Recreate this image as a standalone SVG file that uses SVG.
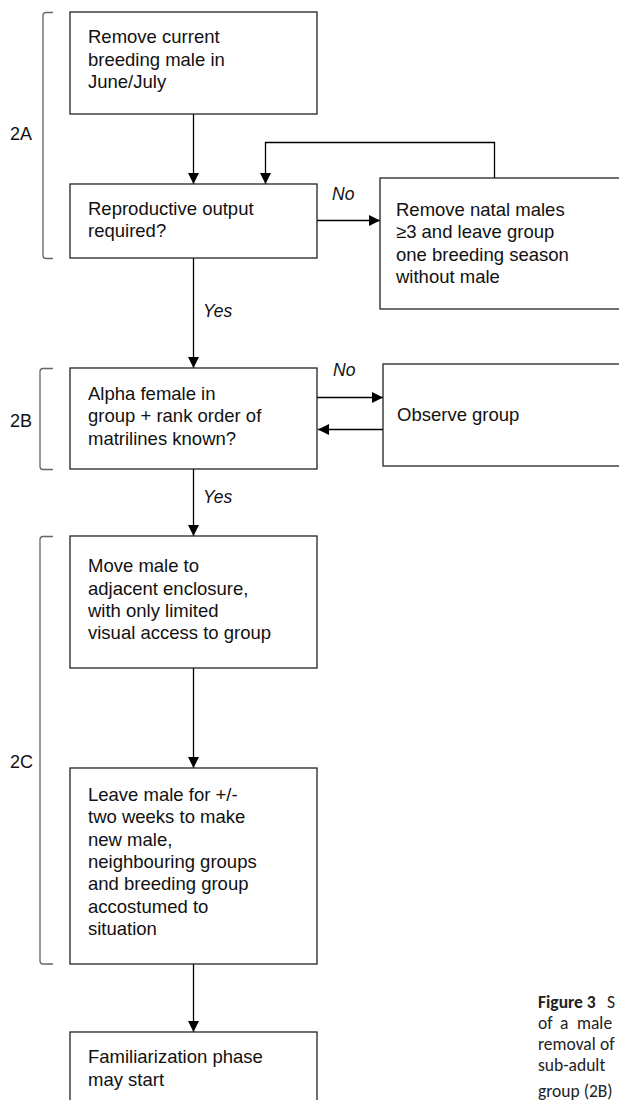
<svg xmlns="http://www.w3.org/2000/svg" width="619" height="1100" viewBox="0 0 619 1100">
<style>
.box{fill:#fff;stroke:#222;stroke-width:1.3}
.t{font-family:"Liberation Sans",Arial,sans-serif;font-size:18.5px;fill:#111}
.lab{font-family:"Liberation Sans",Arial,sans-serif;font-size:17.5px;font-style:italic;fill:#111}
.sec{font-family:"Liberation Sans",Arial,sans-serif;font-size:18px;fill:#111}
.br{fill:none;stroke:#666;stroke-width:1.3}
.c{fill:none;stroke:#000;stroke-width:1.3;marker-end:url(#ah)}
.cap{font-family:Carlito,Lato,"Open Sans",sans-serif;font-size:17.5px;fill:#222}
</style>
<defs>
<marker id="ah" markerUnits="userSpaceOnUse" markerWidth="11" markerHeight="11" viewBox="0 0 10 10" refX="10" refY="5" orient="auto">
<path d="M0,0 L10,5 L0,10 z" fill="#000"/>
</marker>
</defs>

<g id="brackets">
<path class="br" d="M53,12.5 L46,12.5 Q43,12.5 43,15.5 L43,255.5 Q43,258.5 46,258.5 L53,258.5"/>
<text class="sec" x="10" y="140">2A</text>
<path class="br" d="M53,368.5 L43,368.5 Q40,368.5 40,371.5 L40,466.5 Q40,469.5 43,469.5 L53,469.5"/>
<text class="sec" x="10" y="427">2B</text>
<path class="br" d="M53,536.5 L43,536.5 Q40,536.5 40,539.5 L40,961 Q40,964 43,964 L53,964"/>
<text class="sec" x="10" y="768">2C</text>
</g>

<g id="connectors">
<path class="c" d="M193.5,114 L193.5,184"/>
<path class="c" d="M494.5,178 L494.5,142.5 L265.5,142.5 L265.5,184"/>
<path class="c" d="M317,220.5 L380,220.5"/>
<path class="c" d="M193.5,258 L193.5,368"/>
<path class="c" d="M317,397.5 L383,397.5"/>
<path class="c" d="M383,429.5 L318,429.5"/>
<path class="c" d="M193.5,469 L193.5,536"/>
<path class="c" d="M193.5,668 L193.5,768"/>
<path class="c" d="M193.5,964 L193.5,1032"/>
<text class="lab" x="332" y="200">No</text>
<text class="lab" x="203" y="317">Yes</text>
<text class="lab" x="333" y="376">No</text>
<text class="lab" x="203" y="503">Yes</text>
</g>

<g id="n1">
<rect class="box" x="70" y="12" width="247" height="102"/>
<text class="t" x="88" y="43.3">Remove current</text>
<text class="t" x="88" y="65.7">breeding male in</text>
<text class="t" x="88" y="88">June/July</text>
</g>

<g id="n2">
<rect class="box" x="70" y="184" width="247" height="74"/>
<text class="t" x="88" y="215">Reproductive output</text>
<text class="t" x="88" y="237">required?</text>
</g>

<g id="n3">
<rect class="box" x="380" y="178" width="260" height="131"/>
<text class="t" x="396" y="216">Remove natal males</text>
<text class="t" x="396" y="238.3">≥3 and leave group</text>
<text class="t" x="396" y="260.6">one breeding season</text>
<text class="t" x="396" y="283">without male</text>
</g>

<g id="n4">
<rect class="box" x="70" y="368" width="247" height="101"/>
<text class="t" x="88" y="400">Alpha female in</text>
<text class="t" x="88" y="422.3">group + rank order of</text>
<text class="t" x="88" y="444.7">matrilines known?</text>
</g>

<g id="n5">
<rect class="box" x="383" y="364" width="260" height="102"/>
<text class="t" x="397" y="421">Observe group</text>
</g>

<g id="n6">
<rect class="box" x="70" y="536" width="247" height="132"/>
<text class="t" x="88" y="572.3">Move male to</text>
<text class="t" x="88" y="594.7">adjacent enclosure,</text>
<text class="t" x="88" y="617">with only limited</text>
<text class="t" x="88" y="639.3">visual access to group</text>
</g>

<g id="n7">
<rect class="box" x="70" y="768" width="247" height="196"/>
<text class="t" x="88" y="801">Leave male for +/-</text>
<text class="t" x="88" y="823.3">two weeks to make</text>
<text class="t" x="88" y="845.7">new male,</text>
<text class="t" x="88" y="868">neighbouring groups</text>
<text class="t" x="88" y="890.3">and breeding group</text>
<text class="t" x="88" y="912.7">accostumed to</text>
<text class="t" x="88" y="935">situation</text>
</g>

<g id="n8">
<rect class="box" x="70" y="1032" width="247" height="100"/>
<text class="t" x="88" y="1063.3">Familiarization phase</text>
<text class="t" x="88" y="1085.7">may start</text>
</g>

<g id="caption">
<text class="cap" x="538" y="1008" font-weight="bold" font-size="18.5">Figure 3</text>
<text class="cap" x="607" y="1008">S</text>
<text class="cap" x="538" y="1029">of</text>
<text class="cap" x="560" y="1029">a</text>
<text class="cap" x="577" y="1029">male</text>
<text class="cap" x="538" y="1050">removal</text>
<text class="cap" x="600" y="1050">of</text>
<text class="cap" x="538" y="1071">sub-adult</text>
<text class="cap" x="538" y="1097">group (2B)</text>
</g>
</svg>
